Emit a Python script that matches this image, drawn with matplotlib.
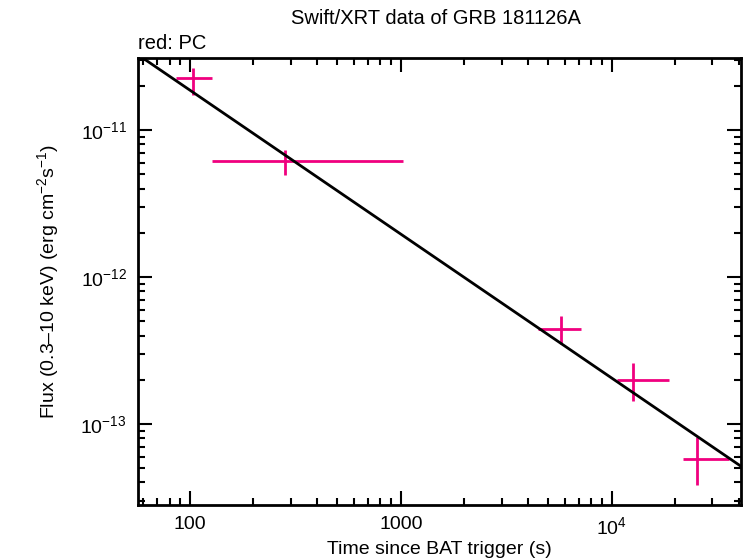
import numpy as np
import matplotlib
matplotlib.use('Agg')
import matplotlib.pyplot as plt
from matplotlib.ticker import FixedLocator, LogLocator, NullFormatter

plt.rcParams['font.family'] = ['Liberation Sans', 'DejaVu Sans']
plt.rcParams['mathtext.fontset'] = 'custom'
plt.rcParams['mathtext.rm'] = 'Liberation Sans'
plt.rcParams['mathtext.it'] = 'Liberation Sans'

# PC mode data (time in s, flux in erg/cm2/s)
t = [103, 282, 5730, 12585, 25360]
t_lo = [85.8, 127, 4450, 10560, 21750]
t_hi = [127, 1028, 7130, 18670, 35960]
flux = [2.26e-11, 6.15e-12, 4.42e-13, 1.99e-13, 5.78e-14]
flux_hi = [2.64e-11, 7.3e-12, 5.43e-13, 2.6e-13, 8.17e-14]
flux_lo = [1.73e-11, 4.94e-12, 3.5e-13, 1.43e-13, 3.85e-14]

xticks = [100, 1000, 1e4]
xticklabels = ['100', '1000', r'10$^{4}$']
yticks = [1e-13, 1e-12, 1e-11]
yticklabels = [r'10$^{\mathregular{-13}}$', r'10$^{\mathregular{-12}}$', r'10$^{\mathregular{-11}}$']

# power-law fit
fit_index = 0.98
fit_norm = 1.96e-12  # flux at 1000 s

t = np.array(t)
flux = np.array(flux)
xerr = [t - np.array(t_lo), np.array(t_hi) - t]
yerr = [flux - np.array(flux_lo), np.array(flux_hi) - flux]

fig = plt.figure(figsize=(7.46, 5.58), dpi=100)
ax = fig.add_axes([0.185, 0.095, 0.808, 0.801])

ax.errorbar(t, flux, xerr=xerr, yerr=yerr, fmt='none', ecolor='#f0007f',
            elinewidth=2, capsize=0, zorder=2)

tt = np.logspace(1.5, 5, 200)
ax.plot(tt, fit_norm * (tt / 1000.0) ** (-fit_index), color='black', lw=2, zorder=3)

ax.set_xscale('log')
ax.set_yscale('log')
ax.set_xlim(56.7, 40860)
ax.set_ylim(2.81e-14, 3.1e-11)

ax.xaxis.set_major_locator(FixedLocator(xticks))
ax.set_xticklabels(xticklabels)
ax.yaxis.set_major_locator(FixedLocator(yticks))
ax.set_yticklabels(yticklabels)
ax.xaxis.set_minor_locator(LogLocator(base=10, subs=np.arange(2, 10)))
ax.yaxis.set_minor_locator(LogLocator(base=10, subs=np.arange(2, 10)))
ax.xaxis.set_minor_formatter(NullFormatter())
ax.yaxis.set_minor_formatter(NullFormatter())

ax.tick_params(which='both', direction='in', top=True, right=True, width=1.5, labelsize=14)
ax.tick_params(which='major', length=10, pad=8)
ax.tick_params(which='minor', length=5)
for s in ax.spines.values():
    s.set_linewidth(2)

ax.set_xlabel('Time since BAT trigger (s)', fontsize=14, labelpad=2)
ax.set_ylabel('Flux (0.3\u201310 keV) (erg cm$^{-2}$s$^{-1}$)', fontsize=14, labelpad=14)
fig.text(0.585, 0.967, 'Swift/XRT data of GRB 181126A', ha='center', va='center', fontsize=14.5)
fig.text(0.185, 0.922, 'red: PC', ha='left', va='center', fontsize=14.5)

fig.savefig('out.png', dpi=100)
